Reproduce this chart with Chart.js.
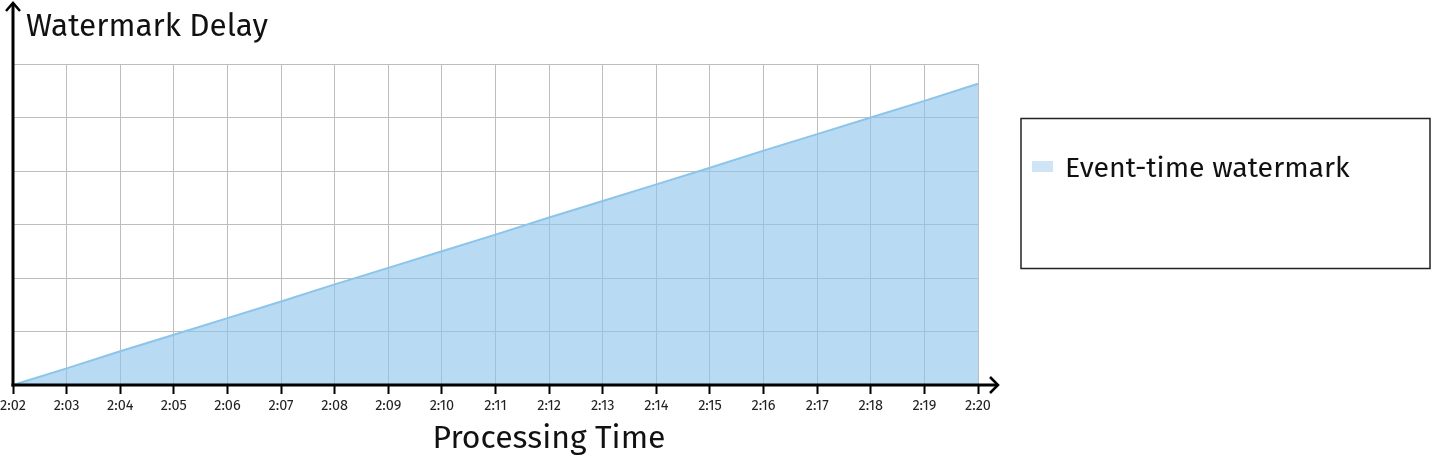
<!DOCTYPE html>
<html>
<head>
<meta charset="utf-8">
<script src="https://cdn.jsdelivr.net/npm/chart.js@4"></script>
<style>
html,body{margin:0;padding:0;background:#fff;}
#wrap{width:1440px;height:456px;position:relative;}
</style>
</head>
<body>
<div id="wrap"><canvas id="c" width="1440" height="456"></canvas></div>
<script>
const categories = ["2:02","2:03","2:04","2:05","2:06","2:07","2:08","2:09","2:10","2:11","2:12","2:13","2:14","2:15","2:16","2:17","2:18","2:19","2:20"];
const watermarkDelay = [0,0.31,0.63,0.94,1.25,1.56,1.88,2.19,2.5,2.81,3.13,3.44,3.75,4.06,4.38,4.69,5,5.31,5.63];
const seriesName = "Event-time watermark";
const yTitle = "Watermark Delay";
const xTitle = "Processing Time";

const FONT = "'Fira Sans','Open Sans','Noto Sans',sans-serif";

const decor = {
  id: 'decor',
  afterDraw(chart) {
    const ctx = chart.ctx, a = chart.chartArea;
    ctx.save();
    ctx.strokeStyle = '#000';
    ctx.fillStyle = '#000';
    ctx.lineWidth = 3;
    ctx.lineCap = 'butt';
    // y axis
    ctx.beginPath();
    ctx.moveTo(a.left, a.bottom + 1.5);
    ctx.lineTo(a.left, 3);
    ctx.stroke();
    ctx.lineWidth = 2.5;
    ctx.beginPath();
    ctx.moveTo(a.left - 7, 11);
    ctx.lineTo(a.left, 3);
    ctx.lineTo(a.left + 7, 11);
    ctx.stroke();
    // x axis
    ctx.lineWidth = 3;
    ctx.beginPath();
    ctx.moveTo(a.left - 1.5, a.bottom);
    ctx.lineTo(a.right + 20, a.bottom);
    ctx.stroke();
    ctx.lineWidth = 2.5;
    ctx.beginPath();
    ctx.moveTo(a.right + 12, a.bottom - 8);
    ctx.lineTo(a.right + 20, a.bottom);
    ctx.lineTo(a.right + 12, a.bottom + 8);
    ctx.stroke();
    // titles
    ctx.fillStyle = '#111';
    ctx.font = '31.5px ' + FONT;
    ctx.textBaseline = 'middle';
    ctx.textAlign = 'left';
    ctx.fillText(yTitle, 26, 27);
    ctx.textAlign = 'center';
    ctx.font = '32px ' + FONT;
    ctx.fillText(xTitle, 549, 439);
    // legend box
    ctx.lineWidth = 1.5;
    ctx.strokeStyle = '#222';
    ctx.strokeRect(1021, 118.5, 409, 150);
    const ds = chart.data.datasets[0];
    ctx.fillStyle = '#cfe5f6';
    ctx.fillRect(1032, 161, 21, 11);
    ctx.fillStyle = '#111';
    ctx.font = '28.5px ' + FONT;
    ctx.textAlign = 'left';
    ctx.fillText(ds.label, 1065, 169);
    ctx.restore();
  }
};

new Chart(document.getElementById('c'), {
  type: 'line',
  data: {
    labels: categories,
    datasets: [{
      label: seriesName,
      data: watermarkDelay,
      borderColor: '#8cc4ea',
      backgroundColor: 'rgba(140,196,234,0.62)',
      borderWidth: 2,
      fill: 'origin',
      pointRadius: 0,
      tension: 0
    }]
  },
  options: {
    responsive: false,
    animation: false,
    layout: { padding: { left: 0, top: 64, right: 462, bottom: 0 } },
    plugins: { legend: { display: false }, tooltip: { enabled: false } },
    scales: {
      x: {
        offset: false,
        grid: { color: '#bdbdbd', lineWidth: 1, tickColor: '#000', tickWidth: 2, tickLength: 9, drawOnChartArea: true },
        border: { display: false },
        ticks: { color: '#222', font: { family: FONT, size: 14.5 }, padding: 3, maxRotation: 0, autoSkip: false },
        afterFit(s) { s.height = 71; s.paddingLeft = 0; s.paddingRight = 0; }
      },
      y: {
        min: 0, max: 6,
        ticks: { display: false, stepSize: 1 },
        grid: { color: '#bdbdbd', lineWidth: 1, drawTicks: false },
        border: { display: false },
        afterFit(s) { s.width = 13; s.paddingTop = 0; s.paddingBottom = 0; }
      }
    }
  },
  plugins: [decor]
});
</script>
</body>
</html>
